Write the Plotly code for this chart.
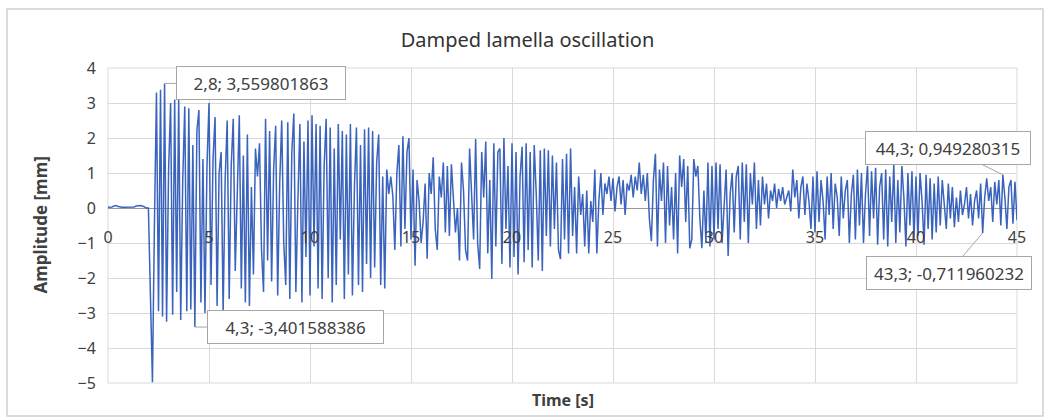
import numpy as np
import plotly.graph_objects as go

# ---------------- data (0.1 s sampling) ----------------
T_START = 0.0
T_STEP = 0.1

amplitude = [
    # 0.0 - 0.9
    0.02, 0.02, 0.03, 0.06, 0.07, 0.04, 0.02, 0.02, 0.02, 0.02,
    # 1.0 - 1.9
    0.02, 0.02, 0.02, 0.03, 0.06, 0.07, 0.07, 0.06, 0.03, 0.00,
    # 2
    0.00, -2.60, -4.98, -0.40, 3.30, -2.95, 3.38, -3.10, 3.559801863, -3.25,
    # 3
    1.10, 3.00, -3.05, 3.10, -2.40, 3.12, -3.20, 0.80, 2.90, -2.95,
    # 4
    2.85, -2.90, 1.80, -3.401588386, 2.20, 2.80, -2.70, 1.40, -3.00, 1.20,
    # 5
    3.00, -2.20, 1.40, 2.60, -2.80, 1.00, 1.60, -3.00, 0.80, 2.50,
    # 6
    -2.60, 1.20, 2.55, -1.80, 0.90, 2.65, -2.30, 1.50, -2.70, 2.10,
    # 7
    -2.80, 0.60, -1.90, 1.70, 0.90, 1.85, -1.20, -2.40, 2.55, -1.50,
    # 8
    2.20, -2.10, 1.10, 2.35, -2.50, 0.70, 2.50, -1.00, -2.20, 2.45,
    # 9
    -2.60, 1.60, 2.70, -2.40, 0.20, 2.40, -2.70, 1.90, -1.40, 2.50,
    # 10
    -2.50, 2.65, -1.10, 2.40, -2.30, 2.35, -2.60, 1.20, 2.55, -2.00,
    # 11
    2.30, -2.70, 1.70, -2.20, 2.40, -0.90, 2.20, -2.60, 2.10, -1.90,
    # 12
    2.40, -2.50, 0.60, 2.30, -2.20, 1.80, -2.40, 2.25, -1.60, 2.30,
    # 13
    -2.00, 2.20, -1.70, 1.30, 2.10, -2.20, 0.90, -2.30, 1.10, 0.40,
    # 14
    0.90, 0.35, -1.20, 1.00, 1.80, -1.10, 2.05, -0.60, 1.60, 2.00,
    # 15
    -0.90, 1.10, -1.65, 0.80, 0.20, -1.00, -0.40, 0.70, -1.45, 1.00,
    # 16
    0.40, 1.45, -0.60, -1.20, 0.90, 0.30, 1.30, -0.70, 1.20, -0.80,
    # 17
    1.25, 0.40, -0.70, 0.00, -1.50, 1.30, 0.50, -1.20, -1.50, 1.70,
    # 18
    0.60, -0.90, 1.97, -1.00, -1.74, 1.60, 0.30, 1.90, -1.30, 0.80,
    # 19
    -2.03, 1.85, -1.10, 1.60, 1.70, -1.60, 2.00, -0.60, 1.20, -1.70,
    # 20
    1.85, -1.40, 1.60, -1.90, 0.90, 1.75, -1.55, 1.85, -1.20, 1.60,
    # 21
    -1.70, 1.80, 0.40, -1.50, 1.65, -1.80, 1.70, -0.80, 1.65, -1.10,
    # 22
    1.50, -0.60, 1.30, -1.20, -1.46, 1.40, -0.90, 1.55, -1.30, 1.70,
    # 23
    -0.80, 0.60, -1.30, 0.90, -0.20, 0.40, -1.10, 0.50, -1.30, 0.20,
    # 24
    -0.40, 1.10, -1.30, 0.20, 1.00, -0.20, 0.70, 0.40, 0.90, 0.20,
    # 25
    0.85, -0.10, 0.60, 0.90, 0.10, 0.80, -0.20, 0.70, 0.50, 0.95,
    # 26
    0.30, 0.90, 0.50, 1.30, 0.40, 0.95, 0.20, 1.00, -0.30, -0.95,
    # 27
    0.80, 1.55, -1.10, 1.10, 0.20, 1.30, -1.00, 1.20, -0.50, 0.60,
    # 28
    -0.90, 1.00, -1.30, 1.50, 0.60, 1.40, -0.40, 1.20, -1.15, -0.90,
    # 29
    1.40, 0.90, 1.20, -0.30, -1.15, 0.50, -1.00, 1.30, -1.10, 1.20,
    # 30
    -0.90, 1.30, -0.60, 1.25, -1.00, 0.20, 1.10, -1.37, 0.40, 1.00,
    # 31
    -0.70, 0.90, 1.20, -0.90, 1.30, -0.40, 1.25, -1.00, 1.00, 0.10,
    # 32
    1.30, -0.60, 0.80, -0.50, 0.90, 0.10, 0.70, -0.30, 0.50, 0.20,
    # 33
    0.70, 0.00, 0.55, 0.20, 0.60, 0.10, 0.30, 0.50, -0.10, 1.10,
    # 34
    0.30, 0.80, -0.30, 0.60, 0.90, -0.20, 0.70, 0.20, -0.60, 0.90,
    # 35
    -0.70, 1.05, -0.40, 0.80, 0.20, -0.90, 0.90, -0.20, 1.00, -0.60,
    # 36
    0.70, 0.30, -0.80, 0.90, -0.30, 0.50, 0.80, -1.00, 0.40, 0.95,
    # 37
    -0.90, 1.10, -0.50, 1.00, -1.00, 0.40, 1.20, -0.80, 1.05, -0.30,
    # 38
    1.15, -1.05, 0.60, 1.00, -0.90, 1.10, -1.10, 0.90, -0.40, 1.25,
    # 39
    -1.00, 0.80, -0.70, 1.20, 0.30, -1.10, 1.00, -0.50, 1.05, -0.90,
    # 40
    0.90, -0.80, 1.00, 0.20, -1.05, 0.95, -0.60, 0.85, -0.90, 0.70,
    # 41
    -0.70, 0.90, -0.50, 0.80, 0.10, -0.60, 0.70, -0.30, 0.60, -0.55,
    # 42
    0.30, -0.40, 0.50, -0.20, 0.10, 0.60, -0.30, 0.40, -0.50, 0.20,
    # 43
    0.50, -0.30, 0.70, -0.711960232, 0.30, 0.85, 0.20, 0.60, -0.40, 0.75,
    # 44
    0.10, 0.80, -0.50, 0.949280315, 0.30, -0.60, 0.60, 0.80, -0.45, 0.75,
    # 45
    -0.35,
]

time = np.round(T_START + T_STEP * np.arange(len(amplitude)), 1)

labelled_times = [2.8, 4.3, 44.3, 43.3]

x_ticks = [0, 5, 10, 15, 20, 25, 30, 35, 40, 45]
y_ticks = [-5, -4, -3, -2, -1, 0, 1, 2, 3, 4]

title_text = "Damped lamella oscillation"
x_title = "Time [s]"
y_title = "Amplitude [mm]"

# ---------------- layout constants ----------------
W, H = 1055, 419
ML, MR, MT, MB = 108, 38, 68, 36
PW, PH = W - ML - MR, H - MT - MB
FONT = "Noto Sans"
TXT = "#404040"
GRID = "#d9d9d9"


def px_to_paper_x(px):
    return (px - ML) / PW


def px_to_paper_y(py):
    return (H - MB - py) / PH


def fmt(v, nd):
    return f"{v:.{nd}f}".replace(".", ",")


fig = go.Figure()
fig.add_trace(go.Scatter(
    x=time, y=amplitude, mode="lines",
    line=dict(color="#3a63bd", width=1.5),
    showlegend=False, hoverinfo="x+y",
))

y_min, y_max = min(y_ticks), max(y_ticks)

# data labels (callouts): (box center offset in px relative to point, width)
label_style = {
    2.8: dict(ax=96, ay=0, w=164),
    4.3: dict(ax=101, ay=0, w=171),
    44.3: dict(ax=-55, ay=-27, w=160),
    43.3: dict(ax=-34, ay=40, w=160),
}
annotations = []
for t in labelled_times:
    i = int(np.argmin(np.abs(time - t)))
    v = amplitude[i]
    st = label_style[t]
    annotations.append(dict(
        x=time[i], y=v, xref="x", yref="y",
        text=f"{fmt(time[i], 1)}; {fmt(v, 9)}",
        showarrow=True, arrowhead=0, arrowwidth=1, arrowcolor="#a6a6a6",
        ax=st["ax"], ay=st["ay"], standoff=0,
        width=st["w"], height=28, align="center",
        bgcolor="white", bordercolor="#a6a6a6", borderwidth=1, borderpad=2,
        font=dict(family=FONT, size=17, color=TXT),
    ))

annotations.append(dict(
    text=f"<b>{x_title}</b>", xref="paper", yref="paper",
    x=0.5, y=px_to_paper_y(400), xanchor="center", yanchor="middle",
    showarrow=False, font=dict(family=FONT, size=16, color=TXT),
))
annotations.append(dict(
    text=f"<b>{y_title}</b>", xref="paper", yref="paper",
    x=px_to_paper_x(40), y=0.5, xanchor="center", yanchor="middle",
    textangle=-90, showarrow=False, font=dict(family=FONT, size=17, color=TXT),
))

fig.update_layout(
    width=W, height=H,
    margin=dict(l=ML, r=MR, t=MT, b=MB),
    paper_bgcolor="white", plot_bgcolor="white",
    title=dict(text=title_text, x=0.5, xref="container", xanchor="center",
               y=1 - 40 / H, yref="container", yanchor="middle",
               font=dict(family=FONT, size=20, color="#333333")),
    xaxis=dict(
        range=[min(x_ticks), max(x_ticks)], tickvals=x_ticks,
        ticktext=[str(v) for v in x_ticks],
        anchor="free", position=(0 - y_min) / (y_max - y_min),
        showgrid=True, gridcolor=GRID, gridwidth=1, zeroline=False,
        showline=False, ticks="outside", ticklen=15, tickcolor="rgba(0,0,0,0)",
        tickfont=dict(family=FONT, size=16, color=TXT),
    ),
    yaxis=dict(
        range=[y_min, y_max], tickvals=y_ticks,
        showgrid=True, gridcolor=GRID, gridwidth=1,
        zeroline=True, zerolinecolor="#999999", zerolinewidth=1,
        showline=False, ticks="outside", ticklen=8, tickcolor="rgba(0,0,0,0)",
        tickfont=dict(family=FONT, size=16, color=TXT),
    ),
    annotations=annotations,
    shapes=[
        dict(type="rect", xref="paper", yref="paper",
             x0=px_to_paper_x(7), x1=px_to_paper_x(1043),
             y0=px_to_paper_y(416), y1=px_to_paper_y(9),
             line=dict(color="#d0d0d0", width=1.5), fillcolor="rgba(0,0,0,0)",
             layer="below"),
        dict(type="line", xref="paper", yref="paper",
             x0=0, x1=1, y0=1, y1=1, line=dict(color=GRID, width=1), layer="below"),
        dict(type="line", xref="paper", yref="paper",
             x0=0, x1=1, y0=0, y1=0, line=dict(color=GRID, width=1), layer="below"),
        dict(type="line", xref="paper", yref="paper",
             x0=1, x1=1, y0=0, y1=1, line=dict(color=GRID, width=1), layer="below"),
        dict(type="line", xref="paper", yref="paper",
             x0=0, x1=0, y0=0, y1=1, line=dict(color=GRID, width=1), layer="below"),
    ],
)

fig.write_html("out.html")
